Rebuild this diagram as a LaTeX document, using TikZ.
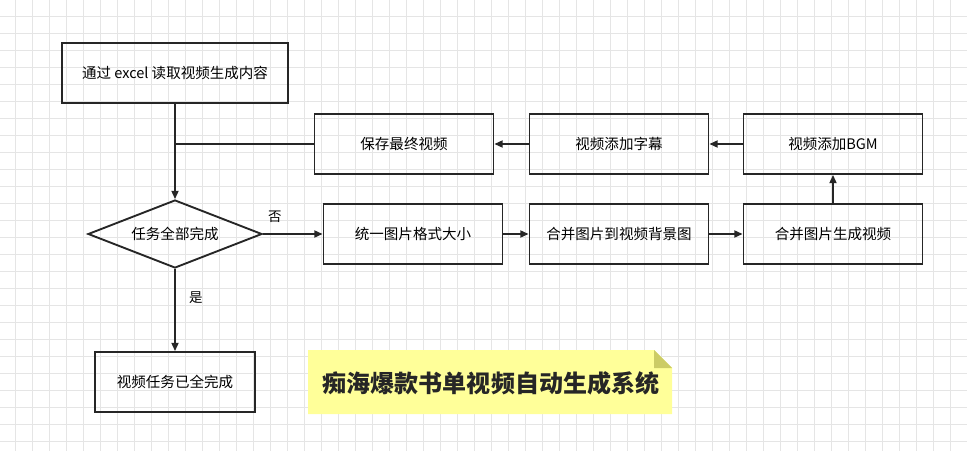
\documentclass[tikz,border=0pt]{standalone}
\usepackage{fontspec}
\setmainfont{Noto Sans CJK SC}
\usetikzlibrary{shapes.geometric,arrows.meta}
\definecolor{notefill}{RGB}{255,255,153}
\definecolor{notefold}{RGB}{204,204,102}
\tikzset{
  box/.style={draw=black!85, line width=1.6pt, minimum width=179*0.03cm, minimum height=60*0.03cm, inner sep=0pt, font=\fontsize{12.4}{14}\selectfont},
  dia/.style={diamond, aspect=2.56, draw=black!85, line width=1.6pt, minimum width=174*0.03cm, minimum height=68*0.03cm, inner sep=0pt, font=\fontsize{12.4}{14}\selectfont},
  arr/.style={draw=black!85, line width=1.4pt, -{Triangle[length=7pt,width=6pt]}},
  lin/.style={draw=black!85, line width=1.4pt}
}
\begin{document}
\begin{tikzpicture}[x=0.03cm, y=-0.03cm]
  \useasboundingbox (0,0) rectangle (967,451);
  % background grid
  \fill[white] (0,0) rectangle (967,451);
  \foreach \i in {0,...,57} \draw[black!10, line width=0.4pt] (\i*17-2,0) -- (\i*17-2,451);
  \foreach \j in {0,...,27} \draw[black!10, line width=0.4pt] (0,\j*17-1) -- (967,\j*17-1);

  \node[box, minimum width=226*0.03cm] (read) at (175,73) {通过 excel 读取视频生成内容};
  \node[dia] (done) at (175,234) {任务全部完成};
  \node[box, minimum width=160*0.03cm] (finish) at (175,382) {视频任务已全完成};
  \node[box] (save) at (404,144) {保存最终视频};
  \node[box] (sub) at (619,144) {视频添加字幕};
  \node[box] (bgm) at (833,144) {视频添加BGM};
  \node[box] (unify) at (413,234) {统一图片格式大小};
  \node[box] (merge) at (619,234) {合并图片到视频背景图};
  \node[box] (gen) at (833,234) {合并图片生成视频};
  \coordinate (join) at (175,144);

  \draw[arr] (read) -- (done);
  \draw[arr] (done) -- node[pos=0.35, right=8pt, font=\fontsize{11.5}{13}\selectfont] {是} (finish);
  \draw[arr] (done) -- node[pos=0.2, above=6pt, font=\fontsize{11.5}{13}\selectfont] {否} (unify);
  \draw[arr] (unify) -- (merge);
  \draw[arr] (merge) -- (gen);
  \draw[arr] (gen) -- (bgm);
  \draw[arr] (bgm) -- (sub);
  \draw[arr] (sub) -- (save);
  \draw[lin] (save) -- (join);

  % note
  \fill[notefill] (308,350) -- (654,350) -- (672,368) -- (672,414) -- (308,414) -- cycle;
  \fill[notefold] (654,350) -- (672,368) -- (654,368) -- cycle;
  \node[font=\bfseries\fontsize{20.5}{24}\selectfont, text=black!85] (title) at (491,383) {痴海爆款书单视频自动生成系统};
\end{tikzpicture}
\end{document}
